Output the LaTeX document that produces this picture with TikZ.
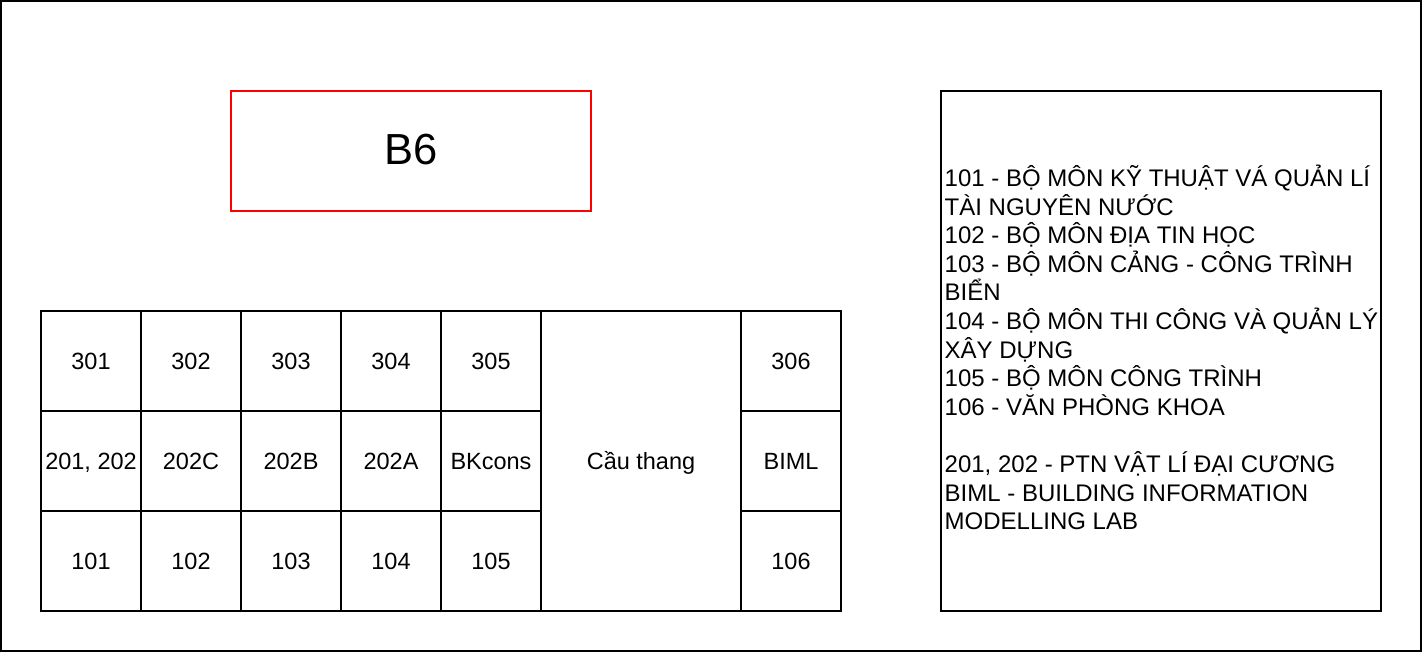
\documentclass[tikz,border=0pt]{standalone}
\usepackage{fontspec}
\setmainfont{Liberation Sans}
\begin{document}
\begin{tikzpicture}[x=1pt,y=-1pt,
  cell/.style={draw=black, line width=1.3pt, minimum width=100pt, minimum height=100pt, inner sep=0pt, text height=16.5pt, text depth=0pt, font=\fontsize{23.5}{28}\selectfont},
  titlebox/.style={draw=red, line width=1.5pt, minimum width=360pt, minimum height=120pt, inner sep=0pt, font=\fontsize{43.5}{50}\selectfont},
  legendbox/.style={draw=black, line width=1.3pt, minimum width=440pt, minimum height=520pt, inner sep=0pt},
  legendtext/.style={align=left, inner sep=0pt, font=\fontsize{24}{28.6}\selectfont}
]
\useasboundingbox (0,0) rectangle (1422,652);
\draw[line width=2pt] (1,1) rectangle (1421,651);
\node[titlebox] (b6) at (411,151) {\raisebox{3pt}{B6}};
% row 3
\node[cell] (r301) at (91,361) {301};
\node[cell] (r302) at (191,361) {302};
\node[cell] (r303) at (291,361) {303};
\node[cell] (r304) at (391,361) {304};
\node[cell] (r305) at (491,361) {305};
\node[cell] (r306) at (791,361) {306};
% row 2
\node[cell] (r201) at (91,461) {201, 202};
\node[cell] (r202c) at (191,461) {202C};
\node[cell] (r202b) at (291,461) {202B};
\node[cell] (r202a) at (391,461) {202A};
\node[cell] (bkcons) at (491,461) {BKcons};
\node[cell] (biml) at (791,461) {BIML};
% row 1
\node[cell] (r101) at (91,561) {101};
\node[cell] (r102) at (191,561) {102};
\node[cell] (r103) at (291,561) {103};
\node[cell] (r104) at (391,561) {104};
\node[cell] (r105) at (491,561) {105};
\node[cell] (r106) at (791,561) {106};
% stairs
\node[cell, minimum width=200pt, minimum height=300pt] (stairs) at (641,461) {Cầu thang};
% legend
\node[legendbox] (legend) at (1161,351) {};
\node[legendtext, anchor=west] (legendtxt) at (944.5,347.5) {101 - BỘ MÔN KỸ THUẬT VÁ QUẢN LÍ\\
TÀI NGUYÊN NƯỚC\\
102 - BỘ MÔN ĐỊA TIN HỌC\\
103 - BỘ MÔN CẢNG - CÔNG TRÌNH\\
BIỂN\\
104 - BỘ MÔN THI CÔNG VÀ QUẢN LÝ\\
XÂY DỰNG\\
105 - BỘ MÔN CÔNG TRÌNH\\
106 - VĂN PHÒNG KHOA\\[28.6pt]
201, 202 - PTN VẬT LÍ ĐẠI CƯƠNG\\
BIML - BUILDING INFORMATION\\
MODELLING LAB};
\end{tikzpicture}
\end{document}
